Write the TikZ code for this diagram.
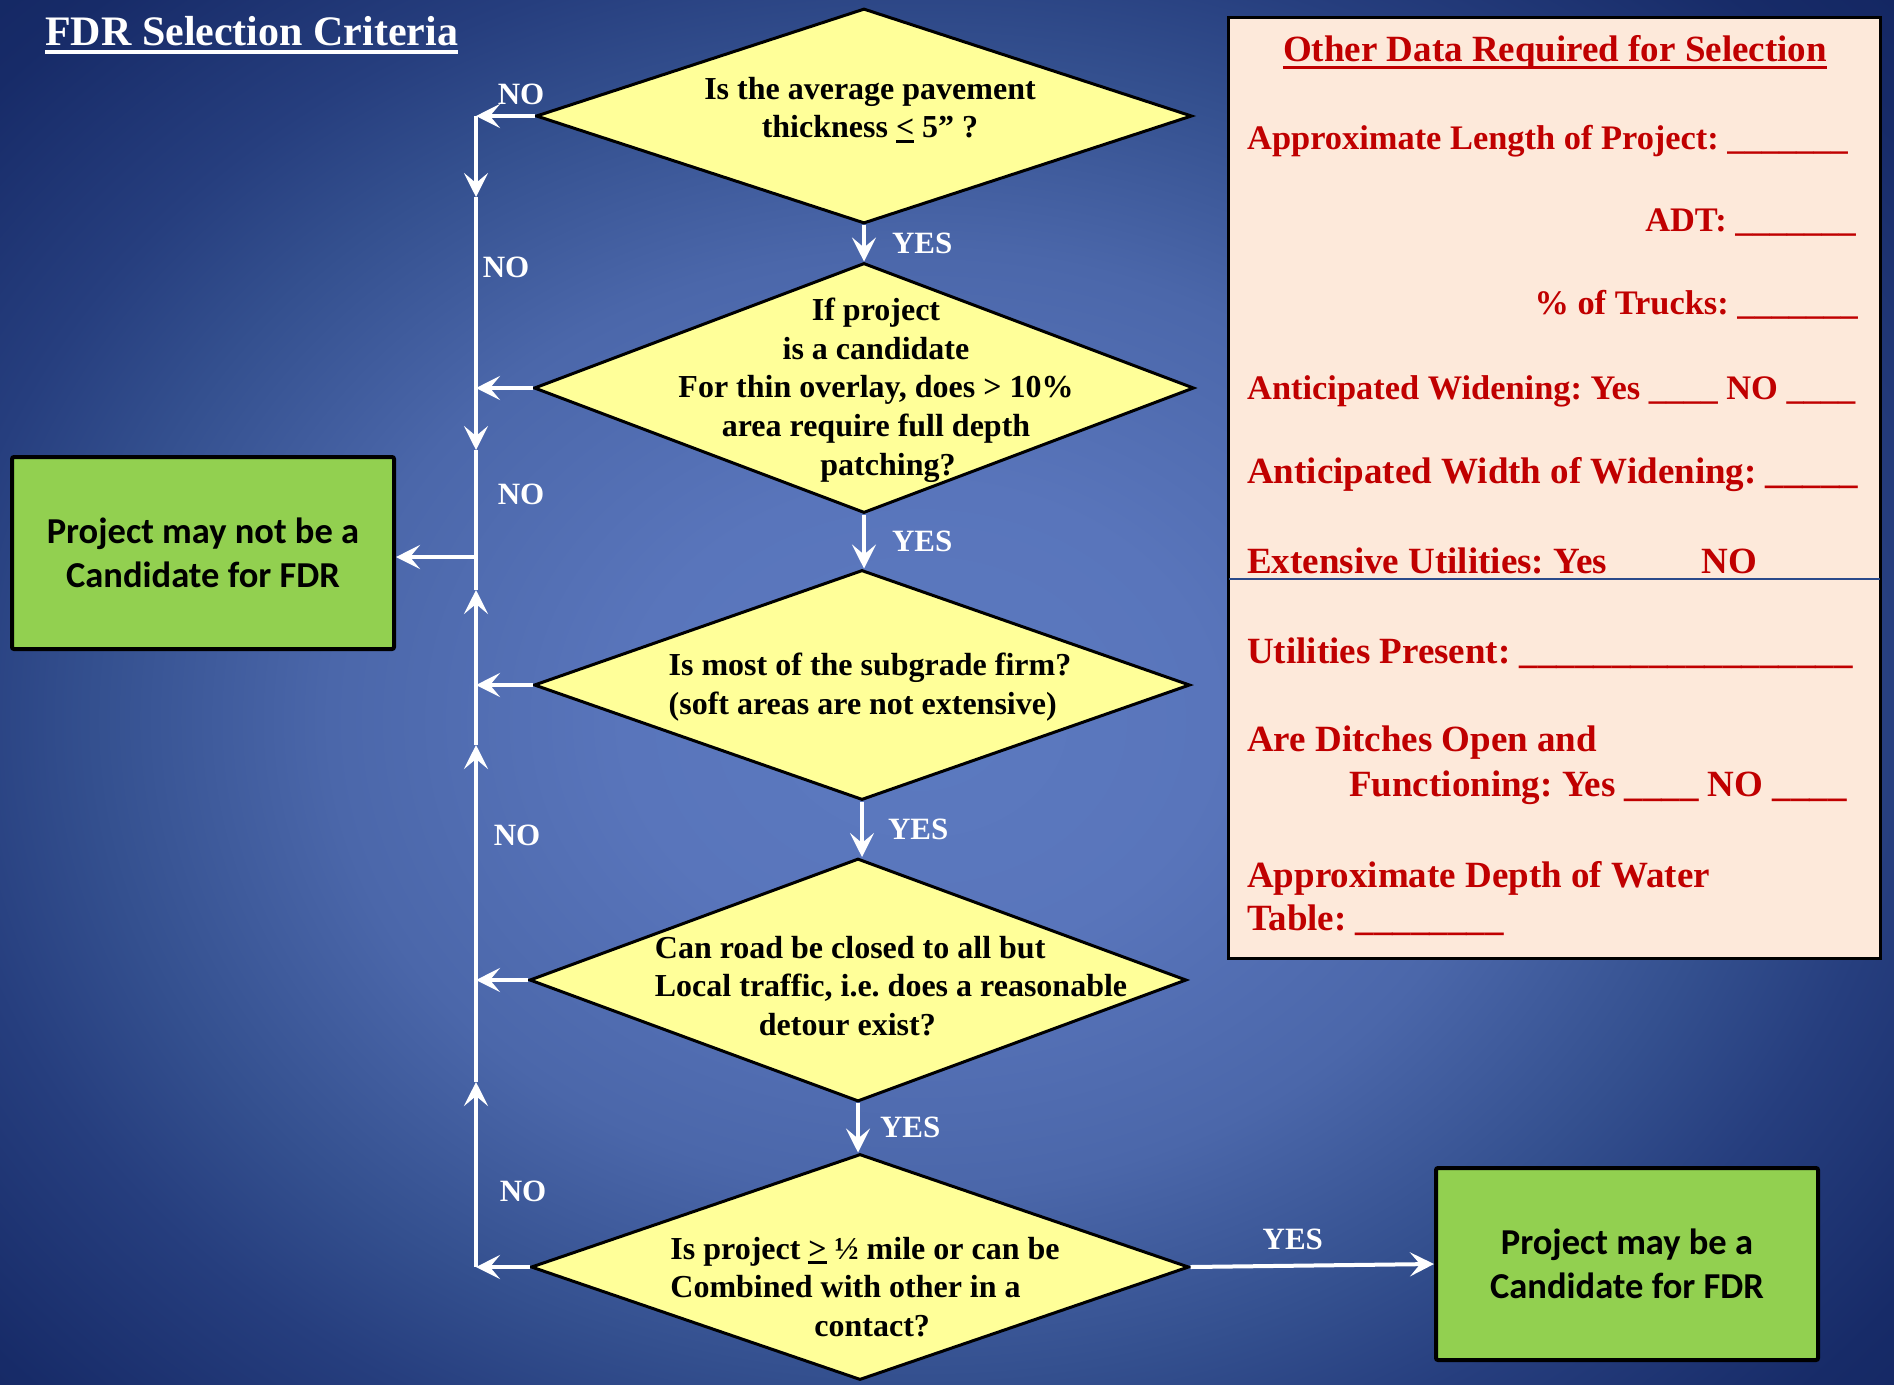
\documentclass[tikz,border=0pt]{standalone}
\usepackage{fontspec}
\setmainfont{Liberation Serif}
\newfontfamily\boxfont{Carlito}
\usepackage{tikz}
\usetikzlibrary{shapes,arrows.meta}
\usetikzlibrary{positioning,calc}

\definecolor{qfill}{HTML}{FFFF99}
\definecolor{endfill}{HTML}{92D050}
\definecolor{panelfill}{HTML}{FDE9DA}
\definecolor{darkred}{HTML}{C00000}
\definecolor{cutline}{HTML}{2B4A8A}
\definecolor{bg0}{HTML}{5C7AC0}
\definecolor{bg1}{HTML}{5975BB}
\definecolor{bg2}{HTML}{4B67AA}
\definecolor{bg3}{HTML}{34508F}
\definecolor{bg4}{HTML}{263E7E}
\definecolor{bg5}{HTML}{172B68}
\definecolor{bg6}{HTML}{10225C}
\pgfdeclareradialshading{slidebg}{\pgfpoint{0bp}{0bp}}{%
  color(0bp)=(bg0); color(15bp)=(bg1); color(30bp)=(bg2); color(42bp)=(bg3);
  color(50bp)=(bg4); color(62bp)=(bg5); color(75bp)=(bg6)}

\newcommand{\ulsym}[1]{\setbox0\hbox{#1}\rlap{\rule[-5pt]{\wd0}{3pt}}#1}
\frenchspacing

\begin{document}
\begin{tikzpicture}
[x=1pt,y=-1pt,
   question/.style={diamond,draw=black,line width=3pt,fill=qfill,inner sep=0pt},
   qtext/.style={font=\fontsize{32}{38.7}\selectfont\bfseries,align=center,inner sep=0pt},
   result/.style={rectangle,draw=black,line width=4pt,fill=endfill,rounded corners=2pt,
     minimum width=382pt,minimum height=192pt,align=center,
     font=\boxfont\fontsize{36.5}{44.5}\selectfont\bfseries},
   flow/.style={draw=white,line width=4pt,-{Stealth[length=24pt,width=24pt,inset=10pt]}},
   plain/.style={draw=white,line width=4pt},
   yesno/.style={text=white,font=\fontsize{31}{36}\selectfont\bfseries,inner sep=0pt},
   datatext/.style={text=darkred,font=\fontsize{37}{44}\selectfont\bfseries,inner sep=0pt},
   datasmall/.style={datatext,font=\fontsize{34.4}{44}\selectfont\bfseries}]
\useasboundingbox (0,0) rectangle (1894,1384);
\begin{scope}
\clip (0,0) rectangle (1894,1384);
\begin{scope}[shift={(920,720)},xscale=19.6,yscale=15.6]
\pgflowlevelsynccm
\pgfuseshading{slidebg}
\end{scope}
\end{scope}

\node[anchor=base west,text=white,font=\fontsize{42}{50}\selectfont\bfseries,inner sep=0pt]
  (title) at (45,45) {FDR Selection Criteria};
\draw[white,line width=3.5pt] ([yshift=-7pt]title.base west) -- ([yshift=-7pt]title.base east);

\node[draw=black,line width=3pt,fill=panelfill,minimum width=652pt,minimum height=941pt,inner sep=0pt]
  (panel) at (1554.5,488) {};
\coordinate (cutl) at (1229,579);
\coordinate (cutr) at (1880,579);
\draw[cutline,line width=1.5pt] (cutl) -- (cutr);
\node[datatext,anchor=base] (ptitle) at (1555,61) {Other Data Required for Selection};
\draw[darkred,line width=3pt] ([yshift=-6pt]ptitle.base west) -- ([yshift=-6pt]ptitle.base east);
\node[datasmall,anchor=base west] (length) at (1247,149) {Approximate Length of Project: \_\_\_\_\_\_\_};
\node[datasmall,anchor=base east] (adt) at (1856,231) {ADT: \_\_\_\_\_\_\_};
\node[datasmall,anchor=base east] (trucks) at (1858,314) {\% of Trucks: \_\_\_\_\_\_\_};
\node[datasmall,anchor=base west] (widen) at (1247,399) {Anticipated Widening: Yes \_\_\_\_ NO \_\_\_\_};
\node[datatext,anchor=base west] (width) at (1247,483) {Anticipated Width of Widening: \_\_\_\_\_};
\node[datatext,anchor=base west] (utilx) at (1247,573) {Extensive Utilities: Yes\hspace{95pt}NO};
\node[datatext,anchor=base west] (utilp) at (1247,663) {Utilities Present: \_\_\_\_\_\_\_\_\_\_\_\_\_\_\_\_\_\_};
\node[datatext,anchor=base west] (ditch) at (1247,751) {Are Ditches Open and};
\node[datatext,anchor=base west] (funct) at (1349,796) {Functioning: Yes \_\_\_\_ NO \_\_\_\_};
\node[datatext,anchor=base west] (water) at (1247,887) {Approximate Depth of Water};
\node[datatext,anchor=base west] (table) at (1247,930) {Table: \_\_\_\_\_\_\_\_};

\node[question,minimum width=656pt,minimum height=215pt] (d1) at (864,116) {};
\node[question,minimum width=660pt,minimum height=250pt] (d2) at (864,388) {};
\node[question,minimum width=656pt,minimum height=230pt] (d3) at (862,685) {};
\node[question,minimum width=657pt,minimum height=243pt] (d4) at (858,980) {};
\node[question,minimum width=658pt,minimum height=226pt] (d5) at (860,1267) {};

\node[qtext] (t1) at (870,110) {Is the average pavement\\thickness \ulsym{<} 5” ?};
\node[qtext] (t2) at (876,390) {If project\\is a candidate\\For thin overlay, does > 10\%\\area require full depth\\\hspace*{24pt}patching?};
\node[qtext,align=left] (t3) at (870,687) {Is most of the subgrade firm?\\(soft areas are not extensive)};
\node[qtext,align=left] (t4) at (891,986) {Can road be closed to all but\\Local traffic, i.e. does a reasonable\\\hspace*{104pt}detour exist?};
\node[qtext,align=left] (t5) at (865,1287) {Is project \ulsym{>} ½ mile or can be\\Combined with other in a\\\hspace*{144pt}contact?};

\node[result] (fail) at (203,553) {Project may not be a\\Candidate for FDR};
\node[result] (pass) at (1627,1264) {Project may be a\\Candidate for FDR};

\coordinate (s1) at (476,116);
\coordinate (s2) at (476,388);
\coordinate (s3) at (476,685);
\coordinate (s4) at (476,980);
\coordinate (s5) at (476,1267);
\coordinate (join) at (476,557);
\coordinate (down1) at (476,197);
\coordinate (down2) at (476,450);
\coordinate (up1) at (476,590);
\coordinate (up2) at (476,745);
\coordinate (up3) at (476,1082);

\draw[flow] (d1.west) -- (s1);
\draw[flow] (d2.west) -- (s2);
\draw[flow] (d3.west) -- (s3);
\draw[flow] (d4.west) -- (s4);
\draw[flow] (d5.west) -- (s5);
\draw[flow] (s1) -- (down1);
\draw[flow] (down1) -- (down2);
\draw[plain] (down2) -- (join);
\draw[flow] (s5) -- (up3);
\draw[flow] (up3) -- (up2);
\draw[flow] (up2) -- (up1);
\draw[plain] (up1) -- (join);
\draw[flow] (join) -- (join -| fail.east);

\draw[flow] (d1.south) -- node[yesno,right=26pt] (y1) {YES} (d2.north);
\draw[flow] (d2.south) -- node[yesno,right=26pt] (y2) {YES} (d2.south |- d3.north);
\draw[flow] (d3.south) -- node[yesno,right=24pt] (y3) {YES} (d3.south |- d4.north);
\draw[flow] (d4.south) -- node[yesno,right=20pt] (y4) {YES} (d4.south |- d5.north);
\draw[flow] (d5.east) -- node[yesno,above=14pt,pos=0.42] (y5) {YES} (pass.west);

\node[yesno] (n1) at (521,94) {NO};
\node[yesno] (n2) at (506,267) {NO};
\node[yesno] (n3) at (521,494) {NO};
\node[yesno] (n4) at (517,835) {NO};
\node[yesno] (n5) at (523,1191) {NO};
\end{tikzpicture}
\end{document}
